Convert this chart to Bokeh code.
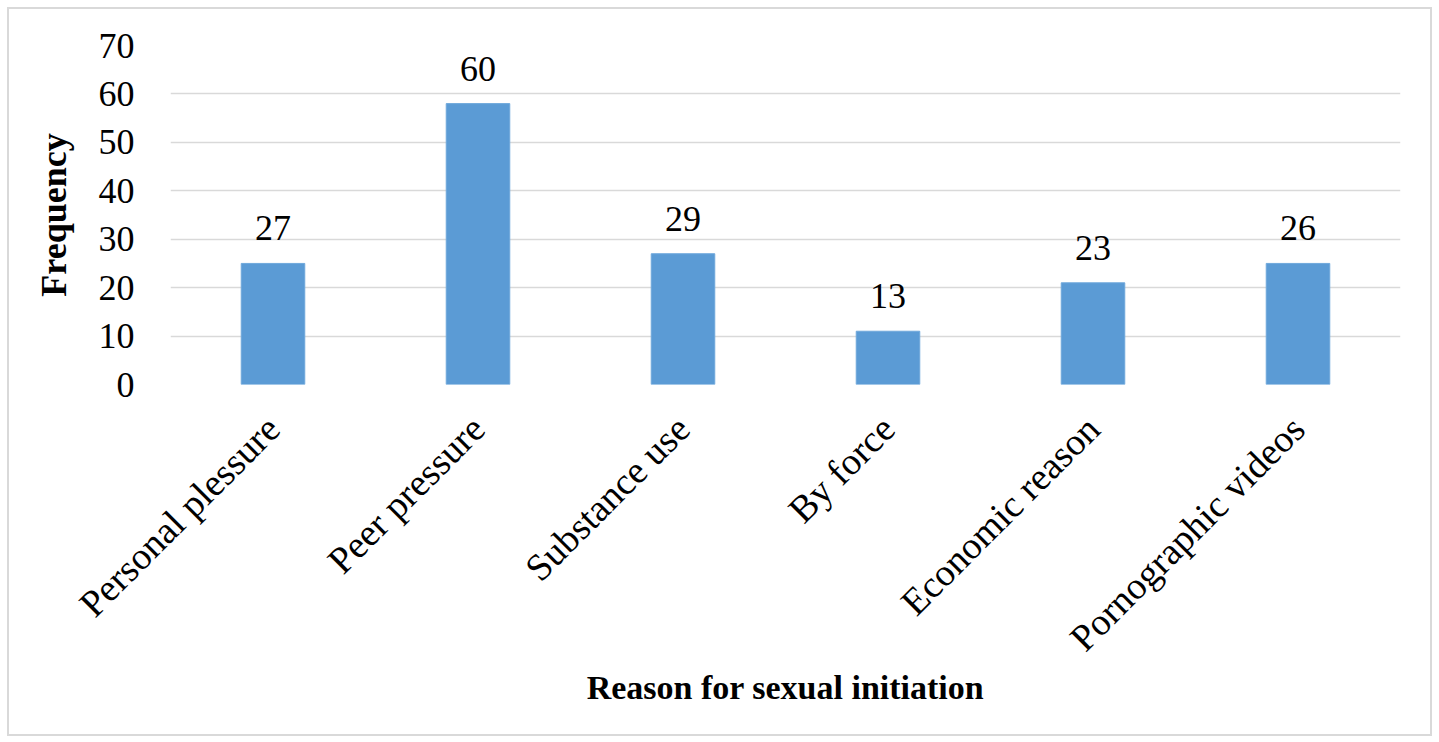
import math
from bokeh.plotting import figure
from bokeh.models import Range1d, FactorRange, ColumnDataSource, LabelSet, FixedTicker
from bokeh.core.properties import value
from bokeh.embed import file_html
from bokeh.resources import INLINE

categories = ["Personal plessure", "Peer pressure", "Substance use",
              "By force", "Economic reason", "Pornographic videos"]
bar_heights = [25, 58, 27, 11, 21, 25]
label_texts = ["27", "60", "29", "13", "23", "26"]
y_ticks = [0, 10, 20, 30, 40, 50, 60, 70]

FONT = "Liberation Serif"

src = ColumnDataSource(dict(cat=categories, val=bar_heights, lbl=label_texts))

p = figure(x_range=FactorRange(*categories, range_padding=0),
           y_range=Range1d(0, 70),
           width=1425, height=729,
           output_backend="svg", toolbar_location=None,
           min_border_left=161, min_border_right=34,
           min_border_top=36, min_border_bottom=354)

p.vbar(x="cat", top="val", width=0.31, source=src,
       fill_color="#5b9bd5", line_color="#6fa8dc", line_width=1)

labels = LabelSet(x="cat", y="val", text="lbl", y_offset=23,
                  text_align="center", text_baseline="alphabetic",
                  text_font=value(FONT), text_font_size="36px",
                  text_color="#000000", source=src)
p.add_layout(labels)

p.yaxis.ticker = FixedTicker(ticks=y_ticks)
p.yaxis.axis_line_color = None
p.yaxis.major_tick_line_color = None
p.yaxis.minor_tick_line_color = None
p.yaxis.major_label_standoff = 30
p.yaxis.major_label_text_font = FONT
p.yaxis.major_label_text_font_size = "36px"
p.yaxis.major_label_text_color = "#000000"
p.yaxis.axis_label = "Frequency"
p.yaxis.axis_label_text_font = FONT
p.yaxis.axis_label_text_font_size = "36px"
p.yaxis.axis_label_text_font_style = "bold"
p.yaxis.axis_label_text_color = "#000000"
p.yaxis.axis_label_standoff = 22

p.xaxis.axis_line_color = None
p.xaxis.major_tick_line_color = None
p.xaxis.minor_tick_line_color = None
p.xaxis.major_label_orientation = math.pi / 4
p.xaxis.major_label_standoff = 32
p.xaxis.major_label_text_font = FONT
p.xaxis.major_label_text_font_size = "38px"
p.xaxis.major_label_text_color = "#000000"
p.xaxis.axis_label = "Reason for sexual initiation"
p.xaxis.axis_label_text_font = FONT
p.xaxis.axis_label_text_font_size = "34px"
p.xaxis.axis_label_text_font_style = "bold"
p.xaxis.axis_label_text_color = "#000000"
p.xaxis.axis_label_standoff = -8

p.xgrid.grid_line_color = None
p.ygrid.grid_line_color = "#d9d9d9"
p.ygrid.grid_line_width = 1.5
p.outline_line_color = None

p.styles = {"border": "2px solid #d9d9d9", "margin-left": "7px", "margin-top": "7px"}

open("out.html", "w").write(file_html(p, INLINE))
